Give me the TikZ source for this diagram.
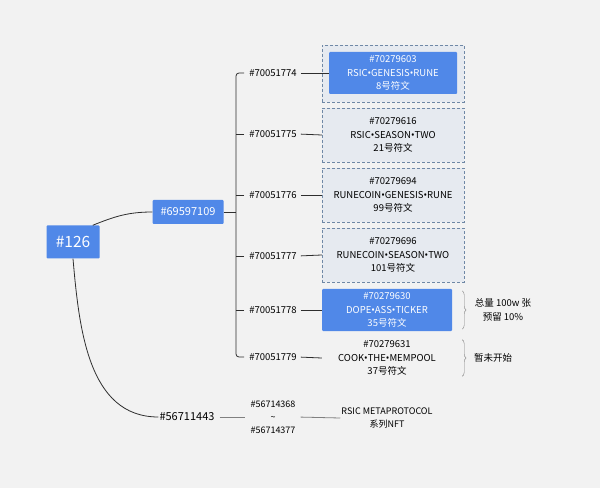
\documentclass[tikz,border=0pt]{standalone}
\usepackage{fontspec}
\setmainfont{Noto Sans CJK SC}
\newfontfamily\dotfont{Noto Sans}
\newcommand\dt{{\dotfont •}}
\usetikzlibrary{arrows,shapes,decorations.pathreplacing}
\definecolor{mapblue}{HTML}{5088E8}
\definecolor{boxgray}{HTML}{E6EAF0}
\definecolor{dashgray}{HTML}{6F88A6}
\definecolor{bggray}{HTML}{F2F2F2}
\definecolor{linegray}{HTML}{2E2E2E}
\tikzstyle{topic} = [fill=mapblue, text=white, rounded corners=1pt, inner sep=0pt, align=center]
\tikzstyle{line} = [draw=linegray, line width=0.8pt]
\tikzstyle{tag} = [font=\fontsize{9.5}{13}\selectfont, inner sep=1pt, align=center]
\tikzstyle{rune} = [minimum width=142pt, minimum height=54pt, fill=boxgray, draw=dashgray, dash pattern=on 3pt off 2pt, align=center, inner sep=0pt, font=\fontsize{9.5}{13.3}\selectfont]
\tikzstyle{brace} = [draw=gray, decorate, decoration={brace, amplitude=4pt}]

\begin{document}
\begin{tikzpicture}[x=1pt,y=1pt]
		\fill[bggray] (0,0) rectangle (600,488);
		\useasboundingbox (0,0) rectangle (600,488);
		% root and parent
		\node[topic, minimum width=53pt, minimum height=33pt, font=\fontsize{15.5}{15}\selectfont] (root) at (73,246) {\#126};
		\node[topic, minimum width=71pt, minimum height=24pt, font=\fontsize{11}{11}\selectfont] (pid) at (188,276) {\#69597109};
		\foreach \i/\y in {4/415, 5/354, 6/293, 7/232, 8/178, 9/131}
			\node[tag] (l\i) at (273,\y) {\#7005177\i};
		% rune boxes
		\node[rune, minimum height=57pt] (b4) at (393,414.5) {};
		\node[topic, minimum width=128pt, minimum height=42pt, font=\fontsize{9.5}{13.3}\selectfont] (r4) at (393,415) {\#70279603\\RSIC\dt GENESIS\dt RUNE\\8号符文};
		\node[rune] (b5) at (393,353) {\#70279616\\RSIC\dt SEASON\dt TWO\\21号符文};
		\node[rune] (b6) at (393,293) {\#70279694\\RUNECOIN\dt GENESIS\dt RUNE\\99号符文};
		\node[rune] (b7) at (393,233) {\#70279696\\RUNECOIN\dt SEASON\dt TWO\\101号符文};
		\node[topic, minimum width=130pt, minimum height=42pt, font=\fontsize{9.5}{13.3}\selectfont] (b8) at (387,178) {\#70279630\\DOPE\dt ASS\dt TICKER\\35号符文};
		\node[tag, font=\fontsize{9.5}{13.3}\selectfont] (b9) at (387,130) {\#70279631\\COOK\dt THE\dt MEMPOOL\\37号符文};
		\node[tag, font=\fontsize{9.5}{14}\selectfont] (n8) at (503,178) {总量 100w 张\\预留 10\%};
		\node[tag, font=\fontsize{9.5}{13}\selectfont] (n9) at (493,130) {暂未开始};
		% bottom branch
		\node[tag, font=\fontsize{11}{11}\selectfont] (q) at (187,71) {\#56711443};
		\node[tag, font=\fontsize{9}{13}\selectfont] (rng) at (273,71) {\#56714368\\\textasciitilde\\\#56714377};
		\node[tag, font=\fontsize{9}{13}\selectfont] (nft) at (387,70) {RSIC METAPROTOCOL\\系列NFT};
		% connectors
		\draw[line] ([xshift=-7pt]root.north east) to[out=22,in=180] (pid.west);
		\draw[line] (root.south) to[out=-85,in=180] (q.west);
		\coordinate (spine) at (236,276);
		\draw[line] (pid.east) -- (spine);
		\draw[line, rounded corners=3pt] ([xshift=-4pt]l4.west) -| (spine) |- ([xshift=-4pt]l9.west);
		\foreach \i in {5,...,8}
			\draw[line] ([xshift=-4pt]l\i.west) -- (l\i.west -| spine);
		\draw[line, shorten <=3pt] (l4.east) -- (r4.west);
		\foreach \i in {5,...,9}
			\draw[line, shorten <=3pt] (l\i.east) -- (b\i.west -| b8.west);
		\draw[brace] ([xshift=10pt,yshift=-2pt]b8.north east) -- ([xshift=10pt,yshift=2pt]b8.south east);
		\draw[brace] ([xshift=10pt]b9.north -| b8.east) -- ([xshift=10pt]b9.south -| b8.east);
		\draw[line, draw=gray, shorten <=4pt, shorten >=4pt] (q.east) -- (rng.west);
		\draw[line, draw=gray, shorten <=4pt] (rng.east) -- (nft.west);
	\end{tikzpicture}
\end{document}
